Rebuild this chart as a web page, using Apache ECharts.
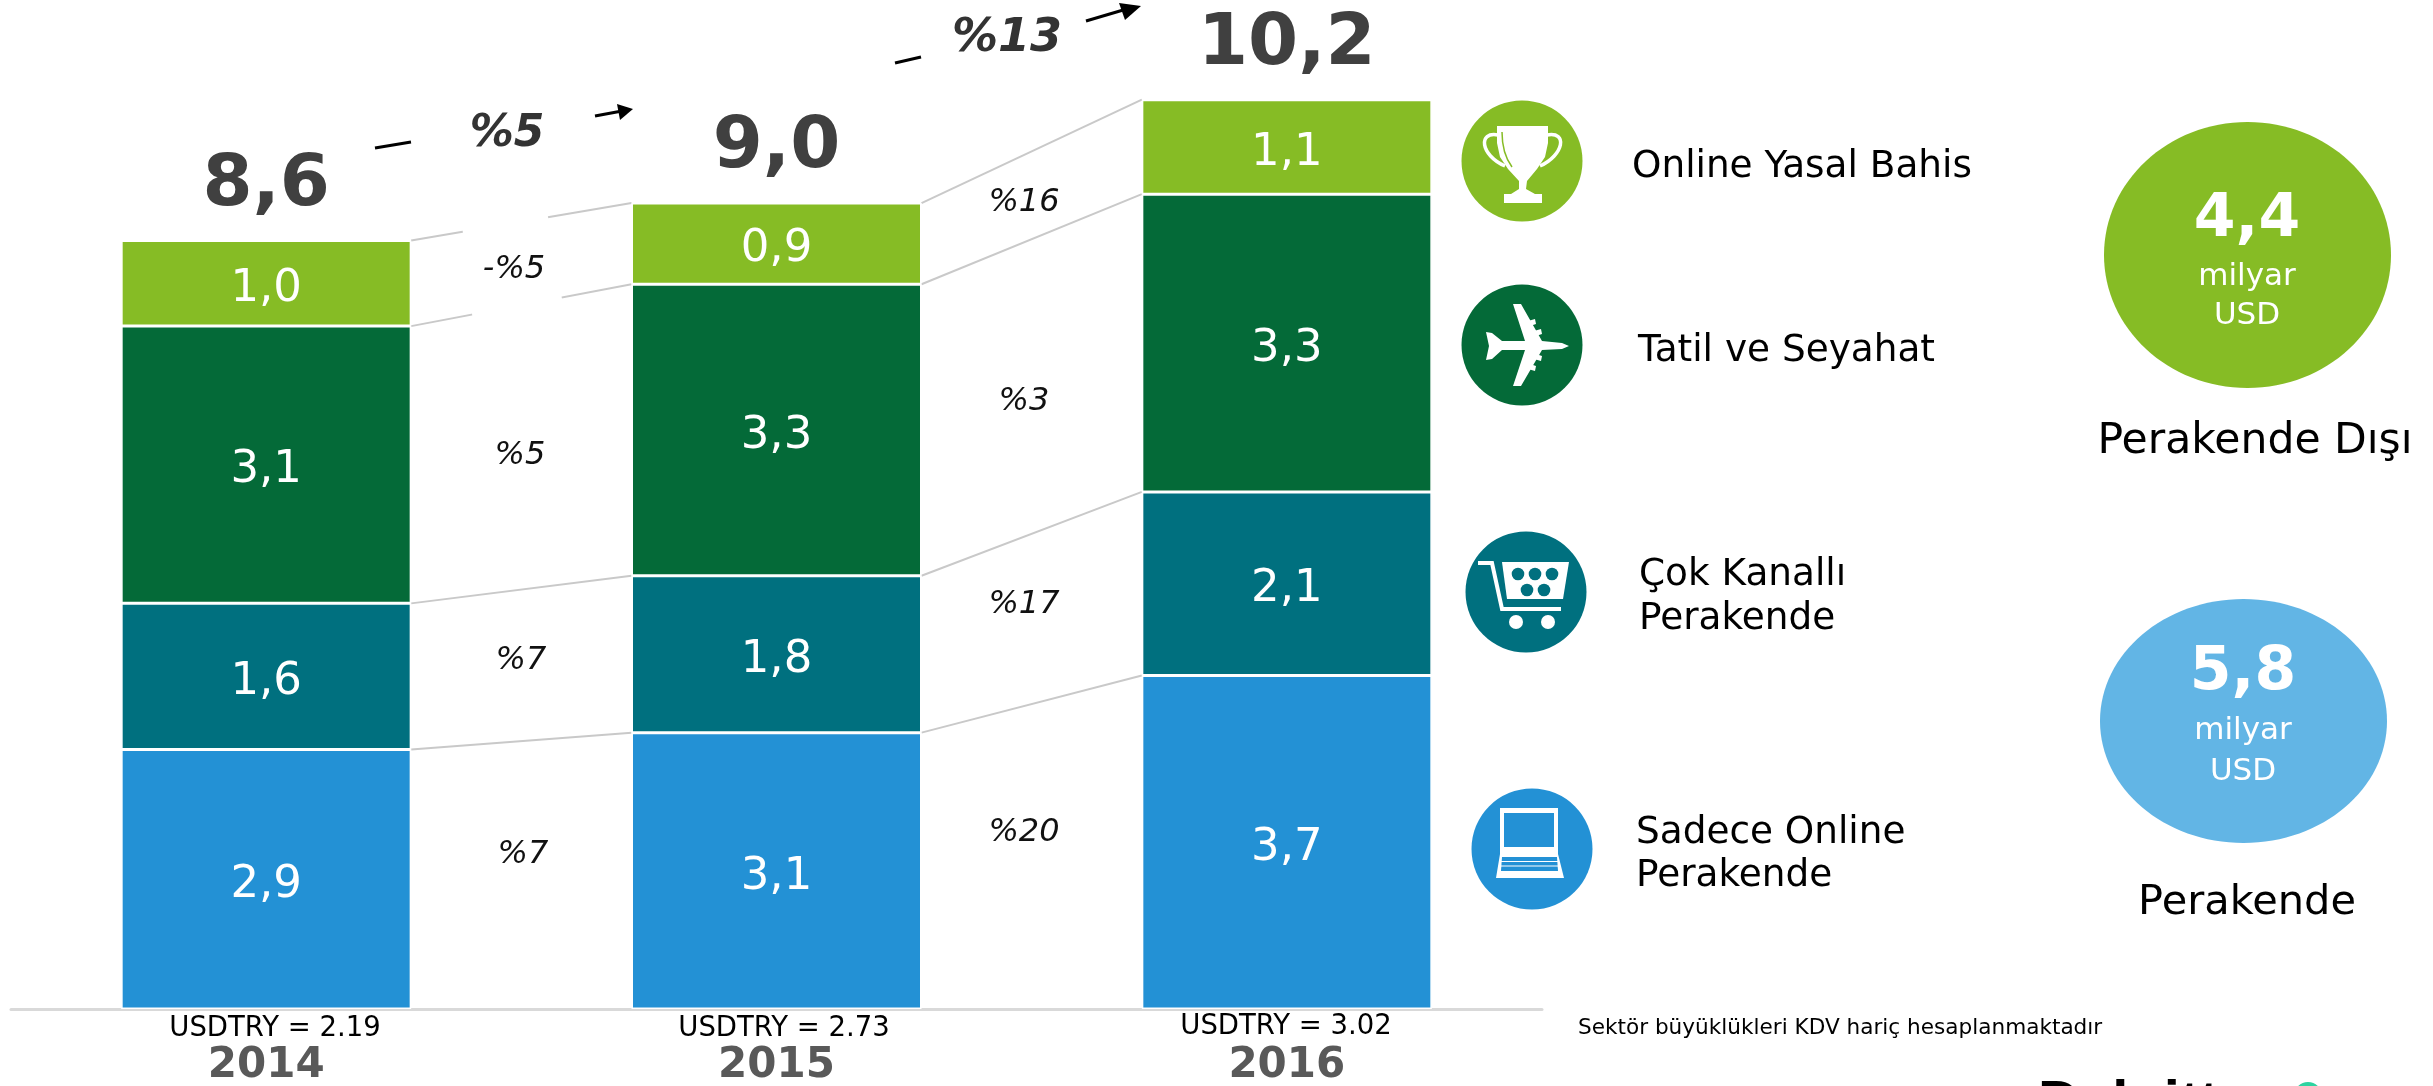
<!DOCTYPE html>
<html>
<head>
<meta charset="utf-8">
<title>Sektör büyüklükleri</title>
<style>
  html, body { margin: 0; padding: 0; background: #fff; }
  #main { width: 2433px; height: 1086px; }
</style>
</head>
<body>
<div id="main"></div>
<script src="https://cdn.jsdelivr.net/npm/echarts@6/dist/echarts.min.js"></script>
<script>
// data (bar heights estimated, they round to the printed labels)
const years = ['2014', '2015', '2016'];
const usdtry = ['USDTRY = 2.19', 'USDTRY = 2.73', 'USDTRY = 3.02'];
const sadeceOnline = [2.91, 3.10, 3.74];
const cokKanalli = [1.64, 1.76, 2.06];
const tatilSeyahat = [3.11, 3.27, 3.34];
const yasalBahis = [0.96, 0.91, 1.06];
const totals = [8.6, 9.0, 10.2];

const growth2015 = ['%7', '%7', '%5', '-%5'];
const growth2016 = ['%20', '%17', '%3', '%16'];
const totalGrowth = ['%5', '%13'];

const stackNames = ['Sadece Online Perakende', 'Çok Kanallı Perakende', 'Tatil ve Seyahat', 'Online Yasal Bahis'];
const stackValues = [sadeceOnline, cokKanalli, tatilSeyahat, yasalBahis];
const stackColors = ['#2391D5', '#00707F', '#046A38', '#86BC25'];

const FONT = '"DejaVu Sans", Verdana, sans-serif';
const comma = v => v.toFixed(1).replace('.', ',');

// helpers for the text and icon parts around the chart
function txt(x, y, text, size, color) {
  return {
    type: 'text', z: 20, x: x, y: y,
    style: { text: text, font: size + 'px ' + FONT, fill: color, align: 'left', verticalAlign: 'middle' }
  };
}
function midTxt(x, y, text, size, color, weight, italic) {
  const font = (italic ? 'italic ' : '') + (weight ? weight + ' ' : '') + size + 'px ' + FONT;
  return {
    type: 'text', z: 20, x: x, y: y,
    style: { text: text, font: font, fill: color, align: 'center', verticalAlign: 'middle' }
  };
}
function disc(cx, cy, r, color, icon) {
  return {
    type: 'group', x: cx, y: cy, z: 20,
    children: [{ type: 'circle', shape: { cx: 0, cy: 0, r: r }, style: { fill: color } }].concat(icon)
  };
}
function poly(points, fill) {
  return { type: 'polygon', shape: { points: points }, style: { fill: fill } };
}
function dot(x, y, r, fill) {
  return { type: 'circle', shape: { cx: x, cy: y, r: r }, style: { fill: fill } };
}
function seg(x1, y1, x2, y2, color, w) {
  return { type: 'line', z: 20, shape: { x1: x1, y1: y1, x2: x2, y2: y2 }, style: { stroke: color, lineWidth: w } };
}
function stroke(points, color, w) {
  return { type: 'polyline', shape: { points: points }, style: { stroke: color, lineWidth: w, fill: null } };
}

const trophy = [
  poly([[-25, -35], [26, -35], [26, -18], [23, -4], [15, 8], [5, 20], [4, 28], [13, 33], [20, 33], [20, 42],
        [-18, 42], [-18, 33], [-11, 33], [-3, 28], [-3, 20], [-14, 8], [-22, -4], [-25, -18]], '#fff'),
  { type: 'bezierCurve', shape: { x1: -24, y1: -26, cpx1: -44, cpy1: -30, cpx2: -42, cpy2: -6, x2: -17, y2: 5 }, style: { stroke: '#fff', lineWidth: 3.5, fill: null } },
  { type: 'bezierCurve', shape: { x1: 25, y1: -26, cpx1: 46, cpy1: -30, cpx2: 42, cpy2: -6, x2: 18, y2: 5 }, style: { stroke: '#fff', lineWidth: 3.5, fill: null } },
  { type: 'bezierCurve', shape: { x1: -20, y1: -29, cpx1: -20, cpy1: -14, cpx2: -16, cpy2: -2, x2: -10, y2: 6 }, style: { stroke: '#86BC25', lineWidth: 1.5, fill: null } }
];
const plane = [
  poly([[47, 1], [40, -2], [20, -4], [-1, -41], [-9, -41], [3, -4], [-20, -4], [-30, -12], [-36, -13], [-33, 1],
        [-36, 15], [-30, 14], [-20, 5], [3, 5], [-9, 41], [-1, 41], [20, 5], [40, 4]], '#fff'),
  poly([[6, -24], [13, -26], [14, -21], [8, -19]], '#fff'),
  poly([[12, -14], [19, -16], [20, -11], [14, -9]], '#fff'),
  poly([[6, 24], [13, 26], [14, 21], [8, 19]], '#fff'),
  poly([[12, 14], [19, 16], [20, 11], [14, 9]], '#fff')
];
const cart = [
  stroke([[-48, -29], [-34, -29], [-24, 17], [35, 17]], '#fff', 4),
  poly([[-24, -30], [43, -30], [37, 7], [-19, 7]], '#fff'),
  dot(-8, -18, 6.3, '#00707F'), dot(9, -18, 6.3, '#00707F'), dot(26, -18, 6.3, '#00707F'),
  dot(1, -2, 6.3, '#00707F'), dot(18, -2, 6.3, '#00707F'),
  dot(-10, 30, 7, '#fff'), dot(22, 30, 7, '#fff')
];
const laptop = [
  poly([[-32, -41], [26, -41], [26, 5], [32, 29], [-36, 29], [-32, 5]], '#fff'),
  poly([[-28, -36], [22, -36], [22, -2], [-28, -2]], '#2391D5'),
  poly([[-30, 8], [25, 8], [26, 22], [-31, 22]], '#2391D5'),
  stroke([[-31, 12.5], [26, 12.5]], '#fff', 1),
  stroke([[-31, 17], [26, 17]], '#fff', 1)
];

const graphics = [
  // total growth arrows, cut by the label in the middle
  seg(375, 148, 411, 142, '#000', 3),
  seg(595, 116, 622, 111, '#000', 3),
  { type: 'polygon', z: 20, shape: { points: [[633, 109], [617, 104], [620, 120]] }, style: { fill: '#000' } },
  seg(895, 63, 921, 57, '#000', 3),
  seg(1086, 21, 1130, 8, '#000', 3),
  { type: 'polygon', z: 20, shape: { points: [[1141, 6], [1119, 3], [1125, 20]] }, style: { fill: '#000' } },
  midTxt(507, 135, totalGrowth[0], 44, '#333', 'bold', true),
  midTxt(1007, 39, totalGrowth[1], 46, '#333', 'bold', true),

  // white patch that breaks the grey connectors behind -%5
  { type: 'polygon', z: 15, shape: { points: [[462, 225], [546, 205], [563, 305], [473, 322]] }, style: { fill: '#fff' } },

  // growth rates between the bars
  midTxt(514, 270, growth2015[3], 32, '#111', null, true),
  midTxt(520, 456, growth2015[2], 32, '#111', null, true),
  midTxt(521, 661, growth2015[1], 32, '#111', null, true),
  midTxt(523, 855, growth2015[0], 32, '#111', null, true),
  midTxt(1024, 203, growth2016[3], 32, '#111', null, true),
  midTxt(1024, 402, growth2016[2], 32, '#111', null, true),
  midTxt(1024, 605, growth2016[1], 32, '#111', null, true),
  midTxt(1024, 833, growth2016[0], 32, '#111', null, true),

  // exchange rates under the bars, they do not sit quite centred on them
  midTxt(275, 1029, usdtry[0], 27.5, '#000'),
  midTxt(784, 1029, usdtry[1], 27.5, '#000'),
  midTxt(1286, 1027, usdtry[2], 27.5, '#000'),

  // legend icons and names
  disc(1522, 161, 60.5, '#86BC25', trophy),
  disc(1522, 345, 60.5, '#046A38', plane),
  disc(1526, 592, 60.5, '#00707F', cart),
  disc(1532, 849, 60.5, '#2391D5', laptop),
  txt(1632, 167, 'Online Yasal Bahis', 37.4, '#000'),
  txt(1638, 351, 'Tatil ve Seyahat', 37.4, '#000'),
  txt(1639, 575, 'Çok Kanallı', 37.4, '#000'),
  txt(1639, 619, 'Perakende', 37.4, '#000'),
  txt(1636, 833, 'Sadece Online', 37.4, '#000'),
  txt(1636, 876, 'Perakende', 37.4, '#000'),

  // retail / non retail summary
  { type: 'ellipse', z: 20, shape: { cx: 2247.5, cy: 255, rx: 143.5, ry: 133 }, style: { fill: '#86BC25' } },
  midTxt(2247, 220, '4,4', 60, '#fff', 'bold'),
  midTxt(2247, 277, 'milyar', 31, '#fff'),
  midTxt(2247, 316, 'USD', 31, '#fff'),
  midTxt(2255, 442, 'Perakende Dışı', 42.5, '#000'),
  { type: 'ellipse', z: 20, shape: { cx: 2243.5, cy: 721, rx: 143.5, ry: 122 }, style: { fill: '#62B5E5' } },
  midTxt(2243, 673, '5,8', 60, '#fff', 'bold'),
  midTxt(2243, 731, 'milyar', 31, '#fff'),
  midTxt(2243, 772, 'USD', 31, '#fff'),
  midTxt(2247, 903, 'Perakende', 41.5, '#000'),

  txt(1578, 1028, 'Sektör büyüklükleri KDV hariç hesaplanmaktadır', 21.6, '#000'),

  // logo, cut off by the bottom edge of the picture
  {
    type: 'text', z: 20, x: 2038, y: 1076,
    style: { text: 'Deloitte', font: 'bold 58px "Liberation Sans", Arial, sans-serif', fill: '#000', verticalAlign: 'top' }
  },
  { type: 'circle', z: 20, shape: { cx: 2308, cy: 1096, r: 14 }, style: { fill: '#2ED3A0' } },
  {
    type: 'text', z: 20, x: 2345, y: 1084,
    style: { text: 'Digital', font: '42px "Liberation Sans", Arial, sans-serif', fill: '#333', verticalAlign: 'top' }
  }
];

// grey lines joining the stack boundaries of neighbouring bars
function renderConnectors(params, api) {
  const level = api.value(0);
  const from = api.value(1);
  const halfBar = 145;
  const heightAt = i => stackValues.slice(0, level + 1).reduce((sum, s) => sum + s[i], 0);
  const a = api.coord([from, heightAt(from)]);
  const b = api.coord([from + 1, heightAt(from + 1)]);
  return {
    type: 'line',
    shape: { x1: a[0] + halfBar, y1: a[1], x2: b[0] - halfBar, y2: b[1] },
    style: { stroke: '#c9c9c9', lineWidth: 2 }
  };
}
const connectorData = [];
stackValues.forEach((s, level) => {
  connectorData.push([level, 0], [level, 1]);
});

const series = stackValues.map((values, i) => ({
  name: stackNames[i],
  type: 'bar',
  stack: 'total',
  barWidth: 290,
  data: values,
  itemStyle: { color: stackColors[i], borderColor: '#fff', borderWidth: 1.5 },
  label: {
    show: true,
    position: 'inside',
    offset: [0, 6],
    color: '#fff',
    fontFamily: FONT,
    fontSize: 45,
    formatter: p => comma(p.value)
  }
}));

series.push({
  type: 'custom',
  renderItem: renderConnectors,
  data: connectorData,
  encode: { x: 1, y: 0 },
  z: 1,
  silent: true
});

// totals over the stacks
series.push({
  type: 'scatter',
  data: stackValues[0].map((_, i) => stackValues.reduce((sum, s) => sum + s[i], 0)),
  symbolSize: 1,
  itemStyle: { color: 'rgba(0,0,0,0)', opacity: 1 },
  silent: true,
  label: {
    show: true,
    position: 'top',
    distance: 18,
    color: '#404040',
    opacity: 1,
    fontFamily: FONT,
    fontWeight: 'bold',
    fontSize: 72,
    formatter: p => comma(totals[p.dataIndex])
  }
});

const chart = echarts.init(document.getElementById('main'));
chart.setOption({
  animation: false,
  backgroundColor: '#fff',
  grid: { left: 11, width: 1531, top: 28.35, height: 980.65, outerBoundsMode: 'none' },
  xAxis: {
    type: 'category',
    data: years,
    axisTick: { show: false },
    axisLine: { lineStyle: { color: '#d9d9d9', width: 3 } },
    axisLabel: {
      margin: 36,
      interval: 0,
      fontFamily: FONT,
      fontSize: 42,
      fontWeight: 'bold',
      color: '#595959'
    }
  },
  yAxis: { type: 'value', min: 0, max: 11, show: false },
  series: series,
  graphic: graphics
});
</script>
</body>
</html>
